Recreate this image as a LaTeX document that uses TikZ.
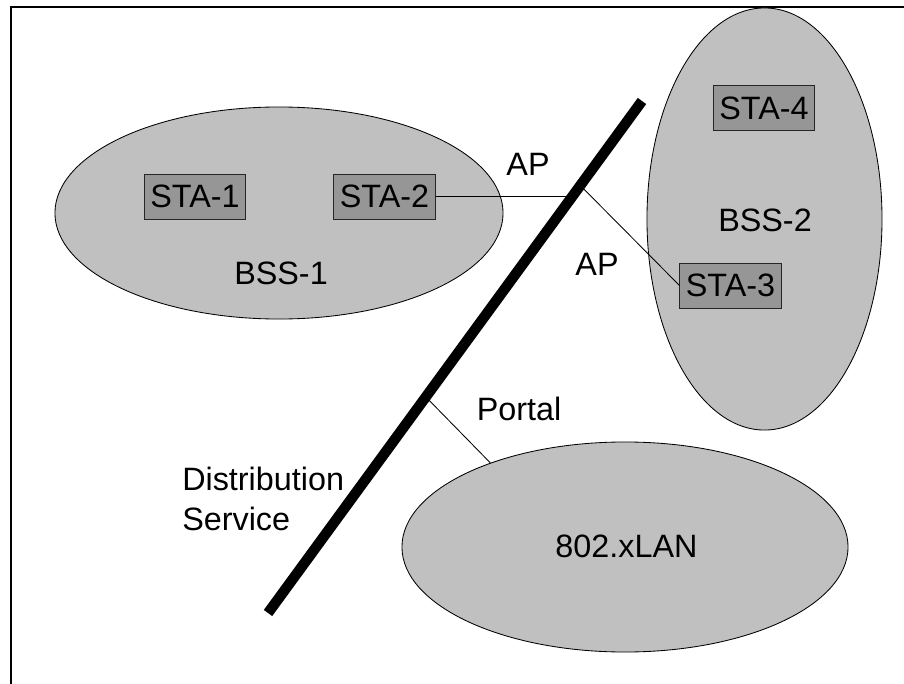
\documentclass[tikz,border=0pt]{standalone}
\usepackage{fontspec}
\setmainfont{Liberation Sans}
\usetikzlibrary{shapes.geometric,calc}
\tikzstyle{canvas} = [x = .025cm, y = -.025cm]
\definecolor{cellColor}{RGB}{192,192,192}
\definecolor{staColor}{RGB}{150,150,150}
\newcommand{\bigText}{\fontsize{23}{28.45}\selectfont}
\tikzstyle{cellStyle} = [ellipse, draw=black, fill=cellColor, line width=.6pt, inner sep=0]
\tikzstyle{staStyle} = [rectangle, draw=black!85, fill=staColor, line width=.7pt, minimum width=2.525cm, minimum height=1.125cm, inner sep=0, font=\bigText]
\tikzstyle{labelText} = [inner sep=0, font=\bigText]
\tikzstyle{linkLine} = [color=black, line width=.6pt]
\tikzstyle{dsLine} = [color=black, line width=.26cm]
\tikzstyle{frameLine} = [color=black, line width=1pt]
\newcommand{\cell}[4]{\node [cellStyle, minimum width=#3cm, minimum height=#4cm] (#1) at (#2) {};}
\newcommand{\station}[3]{\node [staStyle] (#1) at (#2) {#3};}

\begin{document}
\begin{tikzpicture}[canvas]
      \useasboundingbox (0,0) rectangle (904,684);
      \draw[frameLine] (11,684) -- (11,7) -- (904,7);

      \cell{bss1}{279,213}{11.2}{5.3}\cell{bss2}{764.5,219}{5.875}{10.55}\cell{lan}{625,547}{11.15}{5.25}
      \node[labelText] (bss1Label) at (281,273.5) {BSS-1};
      \node[labelText] (bss2Label) at (765,220) {BSS-2};
      \node[labelText] (lanLabel) at (626.5,546.5) {802.xLAN};

      \station{sta1}{195,196.5}{STA-1}\station{sta2}{384.5,196.5}{STA-2}\station{sta3}{730.5,285.5}{STA-3}\station{sta4}{764,108}{STA-4}

      % distribution service
      \coordinate (dsBot) at (268,613);
      \coordinate (dsTop) at (642,101);
      \coordinate (apIn) at ($(dsBot)!.8135!(dsTop)$);
      \coordinate (apOut) at ($(dsBot)!.835!(dsTop)$);
      \coordinate (portal) at ($(dsBot)!.422!(dsTop)$);

      \draw[linkLine] (sta2) -- (apIn);
      \draw[linkLine] (apOut) -- (sta3.west);
      \draw[linkLine] (portal) -- (lan.148);
      \draw[dsLine] (dsBot) -- (dsTop);

      \node[labelText] (apUp) at (528,164) {AP};
      \node[labelText] (apDown) at (597,264) {AP};
      \node[labelText] (portalLabel) at (519,408.5) {Portal};
      \node[labelText, align=left, anchor=north west] (dsLabel) at (182,467) {Distribution\\Service};
    \end{tikzpicture}
\end{document}
